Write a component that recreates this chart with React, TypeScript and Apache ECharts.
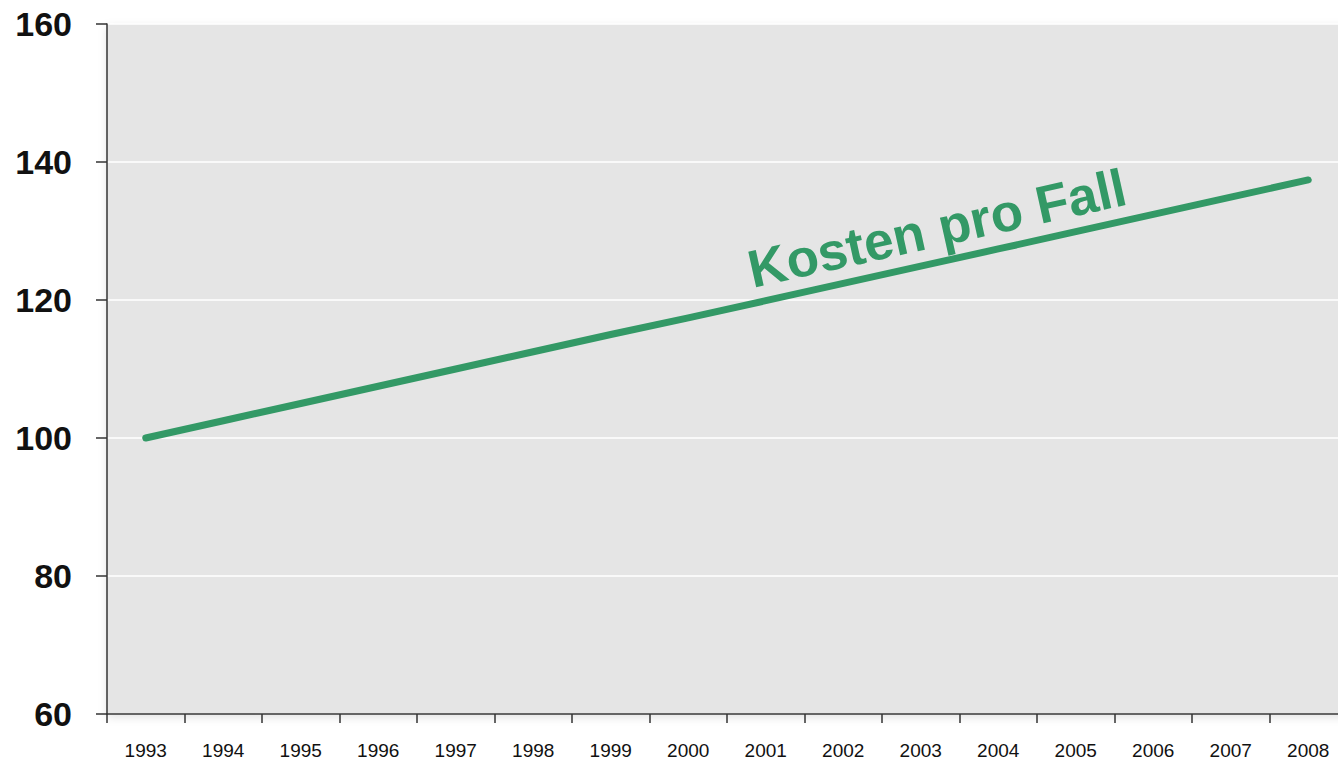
import React, { useEffect, useRef } from "react";
import * as echarts from "echarts";

const years = ["1993","1994","1995","1996","1997","1998","1999","2000","2001","2002","2003","2004","2005","2006","2007","2008"];
const kostenProFall = [100, 102.5, 105, 107.5, 110, 112.5, 115, 117.4, 119.9, 122.4, 124.9, 127.4, 129.9, 132.4, 134.9, 137.4];
const yTicks = { min: 60, max: 160, interval: 20 };
const seriesLabel = "Kosten pro Fall";

export default function App() {
  const ref = useRef<HTMLDivElement>(null);
  useEffect(() => {
    if (!ref.current) return;
    const chart = echarts.init(ref.current, undefined, { renderer: "svg" });
    const font = "Liberation Sans, Arial, sans-serif";
    chart.setOption({
      animation: false,
      backgroundColor: "#ffffff",
      grid: {
        left: 107,
        top: 24,
        width: 1240,
        height: 690,
        show: true,
        backgroundColor: "#e5e5e5",
        borderWidth: 0,
        shadowBlur: 10,
        shadowColor: "rgba(0,0,0,0.12)",
        shadowOffsetY: 3,
      },
      xAxis: {
        type: "category",
        data: years,
        boundaryGap: true,
        axisLine: { show: true, lineStyle: { color: "#333333", width: 1.5 } },
        axisTick: { show: true, length: 9, lineStyle: { color: "#333333", width: 1.5 } },
        axisLabel: { color: "#111111", fontSize: 19, fontFamily: font, margin: 27 },
        splitLine: { show: false },
      },
      yAxis: {
        type: "value",
        min: yTicks.min,
        max: yTicks.max,
        interval: yTicks.interval,
        axisLine: { show: true, lineStyle: { color: "#333333", width: 1.5 } },
        axisTick: { show: true, length: 11, lineStyle: { color: "#333333", width: 1.5 } },
        axisLabel: { color: "#111111", fontSize: 34, fontWeight: "bold", fontFamily: font, margin: 35 },
        splitLine: { show: true, lineStyle: { color: "#ffffff", width: 1.5 } },
      },
      series: [
        {
          type: "line",
          name: seriesLabel,
          data: kostenProFall,
          showSymbol: false,
          lineStyle: { color: "#339966", width: 7, cap: "round", join: "round" },
          itemStyle: { color: "#339966" },
        },
      ],
      graphic: [
        {
          type: "text",
          x: 937,
          y: 228,
          rotation: (12.55 * Math.PI) / 180,
          style: {
            text: seriesLabel,
            fill: "#339966",
            font: `bold 53px ${font}`,
            align: "center",
            verticalAlign: "middle",
          },
        },
      ],
    });
    return () => chart.dispose();
  }, []);
  return (
    <div style={{ position: "fixed", left: 0, top: 0, width: 1338, height: 763, overflow: "hidden" }}>
      <div ref={ref} style={{ width: 1360, height: 763 }} />
    </div>
  );
}
